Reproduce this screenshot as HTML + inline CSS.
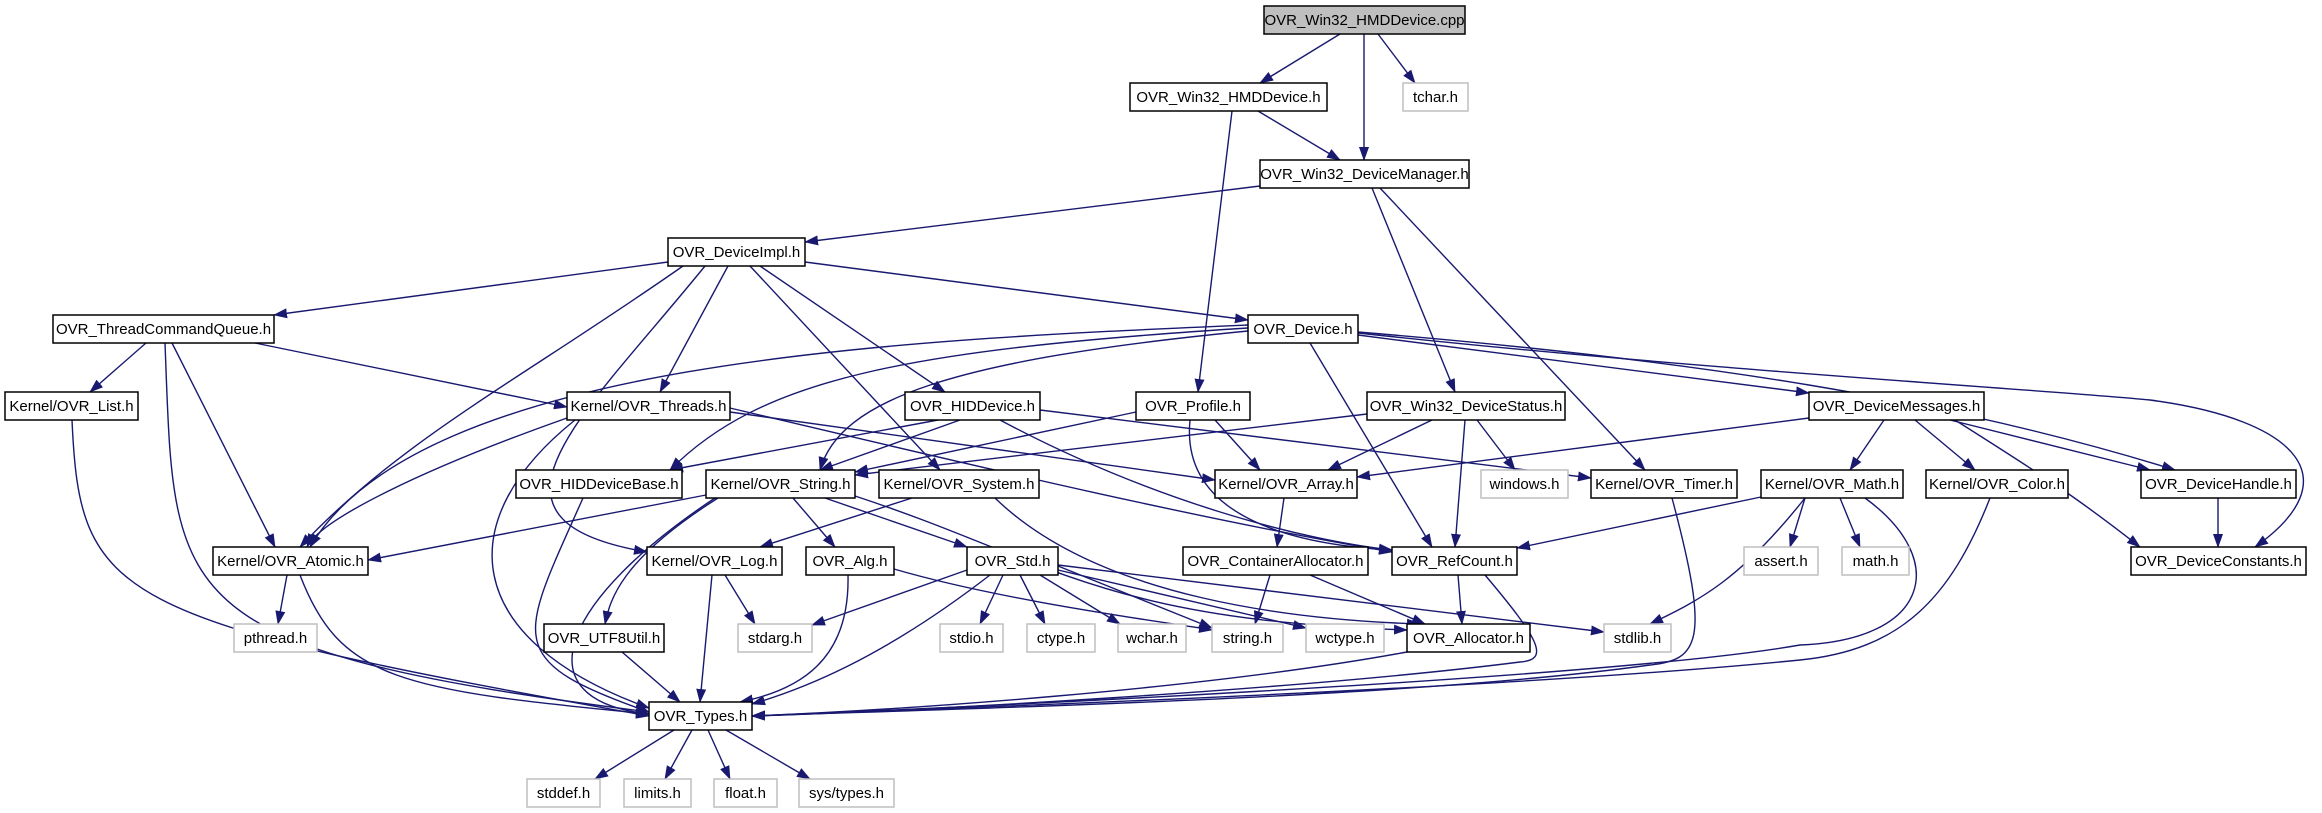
<!DOCTYPE html>
<html><head><meta charset="utf-8"><style>
html,body{margin:0;padding:0;background:#fff;}
svg{display:block}
text{font-family:"Liberation Sans",sans-serif;font-size:15px;fill:#000;}
</style></head><body>
<svg width="2322" height="813" viewBox="0 0 2322 813" xmlns="http://www.w3.org/2000/svg">
<defs><marker id="a" markerUnits="userSpaceOnUse" markerWidth="14" markerHeight="10" refX="13" refY="5" orient="auto"><polygon points="0,0 14,5 0,10" fill="#191970"/></marker></defs>
<g fill="none" stroke="#191970" stroke-width="1.4" marker-end="url(#a)">
<path d="M1340 34 L1260 83"/><path d="M1364 34 L1364 160"/><path d="M1378 34 L1415 83"/>
<path d="M1258 111 L1340 160"/><path d="M1232 111 L1198 392"/>
<path d="M1260 186 L805 242"/><path d="M1372 188 L1455 392"/><path d="M1380 188 L1645 470"/>
<path d="M668 262 L274 315"/><path d="M805 262 L1248 320"/>
<path d="M683 266 C520 380 400 440 300 547"/>
<path d="M705 266 C580 420 460 520 647 552"/>
<path d="M728 266 L660 392"/><path d="M750 266 L940 470"/><path d="M760 266 L945 392"/>
<path d="M146 343 L90 392"/><path d="M165 343 C175 600 160 650 649 712"/>
<path d="M172 343 L275 547"/><path d="M255 343 L567 407"/>
<path d="M1248 325 C900 340 420 360 310 547"/>
<path d="M1248 328 C900 350 760 380 670 470"/>
<path d="M1248 331 C950 360 840 400 820 470"/>
<path d="M1310 343 L1432 547"/><path d="M1358 335 L1809 393"/>
<path d="M1358 332 C1700 360 1950 400 2175 470"/>
<path d="M1358 333 C1700 370 2050 390 2150 400 C2300 420 2350 480 2255 547"/>
<path d="M72 420 C80 600 110 620 649 716"/>
<path d="M567 418 C420 470 320 520 307 547"/>
<path d="M575 420 C450 520 460 640 649 708"/>
<path d="M730 408 C950 460 1200 520 1392 552"/>
<path d="M730 412 L1215 480"/>
<path d="M938 420 L670 470"/><path d="M960 420 L820 470"/>
<path d="M1000 420 C1150 500 1300 540 1392 550"/>
<path d="M1040 410 L1591 478"/>
<path d="M1136 412 L855 472"/><path d="M1215 420 L1260 470"/>
<path d="M1190 420 C1180 520 1300 545 1392 550"/>
<path d="M1367 414 L855 475"/><path d="M1432 420 L1328 470"/><path d="M1465 420 L1455 547"/><path d="M1477 420 L1515 470"/>
<path d="M1809 418 L1357 477"/><path d="M1884 420 L1850 470"/><path d="M1915 420 L1975 470"/><path d="M1950 420 L2150 470"/>
<path d="M1955 420 C2050 480 2080 500 2140 547"/>
<path d="M583 498 C520 640 500 660 649 712"/>
<path d="M706 495 L368 560"/>
<path d="M718 496 C560 600 520 700 649 714"/>
<path d="M718 498 C620 560 610 600 605 624"/>
<path d="M793 498 L835 547"/><path d="M825 498 L967 547"/>
<path d="M855 496 C1050 560 1100 620 1407 630"/>
<path d="M912 498 L760 547"/>
<path d="M995 498 C1100 600 1300 620 1420 624"/>
<path d="M1284 498 L1277 547"/>
<path d="M1672 498 C1710 640 1700 660 1650 665 C1400 700 900 710 752 716"/>
<path d="M1761 497 L1517 548"/><path d="M1805 498 L1790 547"/><path d="M1840 498 L1860 547"/>
<path d="M1805 498 C1740 580 1700 600 1650 624"/>
<path d="M1865 498 C1950 560 1930 640 1800 645 C1600 680 900 710 752 716"/>
<path d="M1990 498 C1950 600 1900 650 1800 660 C1500 690 900 710 752 716"/>
<path d="M2218 498 L2218 547"/>
<path d="M287 575 L278 624"/><path d="M300 575 C340 680 400 690 649 714"/>
<path d="M725 575 L755 624"/><path d="M712 575 L700 702"/>
<path d="M848 575 C850 660 800 690 740 702"/>
<path d="M894 569 C1000 600 1150 620 1212 630"/>
<path d="M967 570 L812 625"/><path d="M1003 575 L980 624"/><path d="M1020 575 L1045 624"/><path d="M1040 575 L1120 624"/>
<path d="M1058 566 L1212 628"/><path d="M1058 570 L1306 628"/><path d="M1058 565 L1604 632"/>
<path d="M990 575 C880 660 800 690 752 704"/>
<path d="M1270 575 L1255 624"/><path d="M1310 575 L1425 624"/><path d="M1458 575 L1462 624"/>
<path d="M1485 575 C1540 640 1550 660 1520 662 C1300 690 900 712 752 716"/>
<path d="M1407 652 C1200 690 900 710 752 716"/>
<path d="M622 652 L680 702"/>
<path d="M674 730 L595 779"/><path d="M692 730 L665 779"/><path d="M708 730 L730 779"/><path d="M726 730 L810 779"/>
</g>
<g id="nodes"></g>
<g stroke-width="1.5">
<!-- black nodes -->
<g fill="#fff" stroke="#000">
<rect x="1264" y="6" width="201" height="28" fill="#bfbfbf"/>
<rect x="1130" y="83" width="197" height="28"/>
<rect x="1260" y="160" width="209" height="28"/>
<rect x="668" y="238" width="137" height="28"/>
<rect x="53" y="315" width="221" height="28"/>
<rect x="1248" y="315" width="110" height="28"/>
<rect x="5" y="392" width="133" height="28"/>
<rect x="567" y="392" width="163" height="28"/>
<rect x="905" y="392" width="135" height="28"/>
<rect x="1136" y="392" width="114" height="28"/>
<rect x="1367" y="392" width="198" height="28"/>
<rect x="1809" y="392" width="175" height="28"/>
<rect x="516" y="470" width="166" height="28"/>
<rect x="706" y="470" width="149" height="28"/>
<rect x="879" y="470" width="160" height="28"/>
<rect x="1215" y="470" width="142" height="28"/>
<rect x="1591" y="470" width="146" height="28"/>
<rect x="1761" y="470" width="142" height="28"/>
<rect x="1926" y="470" width="142" height="28"/>
<rect x="2141" y="470" width="155" height="28"/>
<rect x="213" y="547" width="155" height="28"/>
<rect x="647" y="547" width="135" height="28"/>
<rect x="806" y="547" width="88" height="28"/>
<rect x="967" y="547" width="91" height="28"/>
<rect x="1183" y="547" width="185" height="28"/>
<rect x="1392" y="547" width="125" height="28"/>
<rect x="2131" y="547" width="175" height="28"/>
<rect x="544" y="624" width="120" height="28"/>
<rect x="1407" y="624" width="123" height="28"/>
<rect x="649" y="702" width="103" height="28"/>
</g>
<g fill="#fff" stroke="#bfbfbf">
<rect x="1403" y="83" width="65" height="28"/>
<rect x="1481" y="470" width="87" height="28"/>
<rect x="1744" y="547" width="74" height="28"/>
<rect x="1842" y="547" width="67" height="28"/>
<rect x="234" y="624" width="83" height="28"/>
<rect x="738" y="624" width="74" height="28"/>
<rect x="940" y="624" width="63" height="28"/>
<rect x="1027" y="624" width="68" height="28"/>
<rect x="1118" y="624" width="68" height="28"/>
<rect x="1212" y="624" width="71" height="28"/>
<rect x="1306" y="624" width="78" height="28"/>
<rect x="1604" y="624" width="67" height="28"/>
<rect x="527" y="779" width="73" height="28"/>
<rect x="624" y="779" width="67" height="28"/>
<rect x="714" y="779" width="63" height="28"/>
<rect x="799" y="779" width="95" height="28"/>
</g>
</g>
<g text-anchor="middle">
<text x="1364.5" y="25">OVR_Win32_HMDDevice.cpp</text>
<text x="1228.5" y="102">OVR_Win32_HMDDevice.h</text>
<text x="1435.5" y="102">tchar.h</text>
<text x="1364.5" y="179">OVR_Win32_DeviceManager.h</text>
<text x="736.5" y="257">OVR_DeviceImpl.h</text>
<text x="163.5" y="334">OVR_ThreadCommandQueue.h</text>
<text x="1303" y="334">OVR_Device.h</text>
<text x="71.5" y="411">Kernel/OVR_List.h</text>
<text x="648.5" y="411">Kernel/OVR_Threads.h</text>
<text x="972.5" y="411">OVR_HIDDevice.h</text>
<text x="1193" y="411">OVR_Profile.h</text>
<text x="1466" y="411">OVR_Win32_DeviceStatus.h</text>
<text x="1896.5" y="411">OVR_DeviceMessages.h</text>
<text x="599" y="489">OVR_HIDDeviceBase.h</text>
<text x="780.5" y="489">Kernel/OVR_String.h</text>
<text x="959" y="489">Kernel/OVR_System.h</text>
<text x="1286" y="489">Kernel/OVR_Array.h</text>
<text x="1524.5" y="489">windows.h</text>
<text x="1664" y="489">Kernel/OVR_Timer.h</text>
<text x="1832" y="489">Kernel/OVR_Math.h</text>
<text x="1997" y="489">Kernel/OVR_Color.h</text>
<text x="2218.5" y="489">OVR_DeviceHandle.h</text>
<text x="290.5" y="566">Kernel/OVR_Atomic.h</text>
<text x="714.5" y="566">Kernel/OVR_Log.h</text>
<text x="850" y="566">OVR_Alg.h</text>
<text x="1012.5" y="566">OVR_Std.h</text>
<text x="1275.5" y="566">OVR_ContainerAllocator.h</text>
<text x="1454.5" y="566">OVR_RefCount.h</text>
<text x="1781" y="566">assert.h</text>
<text x="1875.5" y="566">math.h</text>
<text x="2218.5" y="566">OVR_DeviceConstants.h</text>
<text x="275.5" y="643">pthread.h</text>
<text x="604" y="643">OVR_UTF8Util.h</text>
<text x="775" y="643">stdarg.h</text>
<text x="971.5" y="643">stdio.h</text>
<text x="1061" y="643">ctype.h</text>
<text x="1152" y="643">wchar.h</text>
<text x="1247.5" y="643">string.h</text>
<text x="1345" y="643">wctype.h</text>
<text x="1468.5" y="643">OVR_Allocator.h</text>
<text x="1637.5" y="643">stdlib.h</text>
<text x="700.5" y="721">OVR_Types.h</text>
<text x="563.5" y="798">stddef.h</text>
<text x="657.5" y="798">limits.h</text>
<text x="745.5" y="798">float.h</text>
<text x="846.5" y="798">sys/types.h</text>
</g>
</svg>
</body></html>
